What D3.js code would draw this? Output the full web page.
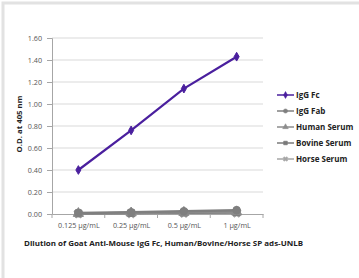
<!DOCTYPE html>
<html>
<head>
<meta charset="utf-8">
<script src="https://cdn.jsdelivr.net/npm/d3@7"></script>
<style>
  body { margin: 0; background: #fff; }
  svg { display: block; font-family: "Open Sans", "DejaVu Sans", sans-serif; }
</style>
</head>
<body>
<svg id="chart" width="359" height="278"></svg>
<script>
// dilutions on the x axis
let dilutions = ["0.125 µg/mL", "0.25 µg/mL", "0.5 µg/mL", "1 µg/mL"];
let yTicks = [0, 0.2, 0.4, 0.6, 0.8, 1.0, 1.2, 1.4, 1.6];

let seriesNames = ["IgG Fc", "IgG Fab", "Human Serum", "Bovine Serum", "Horse Serum"];
let iggFc = [0.40, 0.76, 1.14, 1.43];
let iggFab = [0.01, 0.015, 0.025, 0.035];
let humanSerum = [0.005, 0.01, 0.015, 0.02];
let bovineSerum = [0.005, 0.008, 0.012, 0.015];
let horseSerum = [0.003, 0.005, 0.008, 0.01];

let seriesValues = [iggFc, iggFab, humanSerum, bovineSerum, horseSerum];
let seriesColors = ["#4a1f9e", "#7f7f7f", "#8c8c8c", "#7a7a7a", "#a6a6a6"];
let seriesSymbols = [d3.symbolDiamond, d3.symbolCircle, d3.symbolTriangle, d3.symbolSquare, d3.symbolCross];

let svg = d3.select("#chart");

// light frame at the left and top
svg.append("rect")
    .attr("x", 3).attr("y", 3)
    .attr("width", 400).attr("height", 300)
    .attr("fill", "none")
    .attr("stroke", "#e2e2e2")
    .attr("stroke-width", 3);

let plotLeft = 52, plotRight = 263, plotTop = 38, plotBottom = 214;

let x = d3.scalePoint().domain(dilutions).range([plotLeft, plotRight]).padding(0.5);
let xBand = d3.scaleBand().domain(dilutions).range([plotLeft, plotRight]);
let y = d3.scaleLinear().domain([0, 1.6]).range([plotBottom, plotTop]);

// gridlines
svg.append("g")
    .selectAll("line")
    .data(yTicks.slice(1))
    .enter().append("line")
    .attr("x1", plotLeft).attr("x2", plotRight)
    .attr("y1", d => y(d)).attr("y2", d => y(d))
    .attr("stroke", "#d9d9d9")
    .attr("stroke-width", 1);

// y axis
let yAxis = svg.append("g")
    .attr("transform", "translate(" + plotLeft + ",0)")
    .call(d3.axisLeft(y).tickValues(yTicks).tickFormat(d3.format(".2f")).tickSize(5).tickPadding(5));
yAxis.select(".domain").attr("stroke", "#a6a6a6");
yAxis.selectAll(".tick line").attr("stroke", "#a6a6a6");
yAxis.selectAll("text").attr("fill", "#555").style("font-size", "7.2px").style("font-family", "Open Sans, sans-serif");

// x axis, ticks on category boundaries
let xAxis = svg.append("g")
    .attr("transform", "translate(0," + plotBottom + ")")
    .call(d3.axisBottom(x).tickSize(0).tickPadding(9));
xAxis.select(".domain").attr("stroke", "#a6a6a6");
xAxis.selectAll("text").attr("fill", "#555").style("font-size", "7.2px").style("font-family", "Open Sans, sans-serif");
svg.append("g")
    .selectAll("line")
    .data(dilutions.concat(["end"]))
    .enter().append("line")
    .attr("x1", (d, i) => i < dilutions.length ? xBand(d) : plotRight)
    .attr("x2", (d, i) => i < dilutions.length ? xBand(d) : plotRight)
    .attr("y1", plotBottom).attr("y2", plotBottom + 4)
    .attr("stroke", "#a6a6a6");

// series, gray ones first so purple sits on top
let line = d3.line().x((d, i) => x(dilutions[i])).y(d => y(d));
let order = [4, 3, 2, 1, 0];
order.forEach(function (s) {
    let g = svg.append("g");
    g.append("path")
        .datum(seriesValues[s])
        .attr("d", line)
        .attr("fill", "none")
        .attr("stroke", seriesColors[s])
        .attr("stroke-width", s === 0 ? 2.2 : 2.5);
    g.selectAll("path.pt")
        .data(seriesValues[s])
        .enter().append("path")
        .attr("class", "pt")
        .attr("d", d3.symbol().type(seriesSymbols[s]).size(s === 0 ? 22 : 45))
        .attr("transform", (d, i) => "translate(" + x(dilutions[i]) + "," + y(d) + ")" + (s === 4 ? " rotate(45)" : ""))
        .attr("fill", seriesColors[s])
        .attr("stroke", seriesColors[s]);
});

// legend
let legend = svg.append("g");
seriesNames.forEach(function (name, i) {
    let ly = 95 + i * 16;
    legend.append("line")
        .attr("x1", 277).attr("x2", 294)
        .attr("y1", ly).attr("y2", ly)
        .attr("stroke", seriesColors[i])
        .attr("stroke-width", 1.5);
    legend.append("path")
        .attr("d", d3.symbol().type(seriesSymbols[i]).size(14))
        .attr("transform", "translate(285.5," + ly + ")" + (i === 4 ? " rotate(45)" : ""))
        .attr("fill", seriesColors[i])
        .attr("stroke", seriesColors[i])
        .attr("stroke-width", 0.5);
    legend.append("text")
        .attr("x", 296).attr("y", ly)
        .attr("dy", "0.35em")
        .style("font-size", "8px")
        .style("font-weight", "bold")
        .attr("fill", "#222")
        .text(name);
});

// axis titles
svg.append("text")
    .attr("transform", "translate(22,124) rotate(-90)")
    .attr("text-anchor", "middle")
    .style("font-size", "7.8px")
    .style("font-weight", "bold")
    .attr("fill", "#222")
    .text("O.D. at 405 nm");

svg.append("text")
    .attr("x", 24).attr("y", 246)
    .style("font-size", "7.8px")
    .style("font-weight", "bold")
    .attr("fill", "#222")
    .attr("textLength", 279)
    .attr("lengthAdjust", "spacingAndGlyphs")
    .text("Dilution of Goat Anti-Mouse IgG Fc, Human/Bovine/Horse SP ads-UNLB");
</script>
</body>
</html>
